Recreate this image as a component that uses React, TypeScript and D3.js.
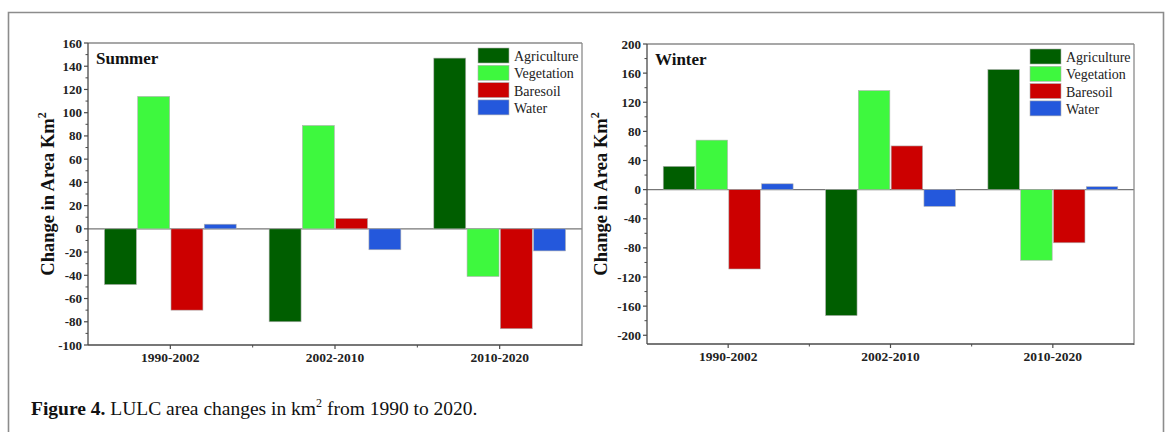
import React from "react";
import * as d3 from "d3";

// Periods and land-cover classes
const periods = ["1990-2002", "2002-2010", "2010-2020"];
const classes = ["Agriculture", "Vegetation", "Baresoil", "Water"];
const classColors = ["#005e00", "#3ef83e", "#cc0000", "#2458dc"];

// Summer change (km²) per class, one value per period
const summerAgriculture = [-48, -80, 147];
const summerVegetation = [114, 89, -41];
const summerBaresoil = [-70, 9, -86];
const summerWater = [4, -18, -19];

// Winter change (km²) per class, one value per period
const winterAgriculture = [32, -173, 165];
const winterVegetation = [68, 136, -97];
const winterBaresoil = [-109, 60, -73];
const winterWater = [8, -23, 4];

// Axis ticks
const summerMajorTicks = [-100, -80, -60, -40, -20, 0, 20, 40, 60, 80, 100, 120, 140, 160];
const summerDomain: [number, number] = [-100, 160];
const winterMajorTicks = [-200, -160, -120, -80, -40, 0, 40, 80, 120, 160, 200];
const winterDomain: [number, number] = [-212, 200];

const SERIF = "'Liberation Serif', 'Times New Roman', Times, serif";

type PanelProps = {
  x0: number;
  x1: number;
  y0: number;
  y1: number;
  domain: [number, number];
  majorTicks: number[];
  minorStep: number;
  series: number[][];
  label: string;
  titleX: number;
};

function Panel({ x0, x1, y0, y1, domain, majorTicks, minorStep, series, label, titleX }: PanelProps) {
  const x = d3.scaleBand<string>().domain(periods).range([x0, x1]).padding(0);
  const bw = x.bandwidth();
  const xc = d3
    .scaleBand<string>()
    .domain(classes)
    .range([bw * 0.1, bw * 0.9])
    .paddingInner(0.04);
  const y = d3.scaleLinear().domain(domain).range([y1, y0]);

  const step = majorTicks[1] - majorTicks[0];
  const minorTicks = d3
    .range(majorTicks[0] - step / 2, majorTicks[majorTicks.length - 1], minorStep)
    .filter((v) => v >= domain[0] && v <= domain[1] && !majorTicks.includes(v));

  const boundaries = periods.slice(1).map((p) => x(p)!);
  const axisColor = "#4a4a4a";
  const frameColor = "#8a8a8a";

  return (
    <g>
      {/* zero baseline */}
      <line x1={x0} x2={x1} y1={y(0)} y2={y(0)} stroke="#777" strokeWidth={1.2} />

      {/* bars */}
      {series.map((vals, ci) =>
        vals.map((v, pi) => {
          const bx = x(periods[pi])! + xc(classes[ci])!;
          const top = y(Math.max(0, v));
          const h = Math.abs(y(v) - y(0));
          return (
            <rect
              key={`${ci}-${pi}`}
              x={bx}
              y={top}
              width={xc.bandwidth()}
              height={h}
              fill={classColors[ci]}
              stroke="#b0b0b0"
              strokeWidth={0.6}
            />
          );
        })
      )}

      {/* frame */}
      <line x1={x0} x2={x1} y1={y0} y2={y0} stroke={frameColor} strokeWidth={1.3} />
      <line x1={x1} x2={x1} y1={y0} y2={y1 + 1} stroke={frameColor} strokeWidth={1.3} />
      <line x1={x0} x2={x0} y1={y0} y2={y1} stroke={axisColor} strokeWidth={1.3} />
      <line x1={x0} x2={x1} y1={y1} y2={y1} stroke={axisColor} strokeWidth={1.3} />

      {/* y ticks */}
      {majorTicks.map((t) => (
        <g key={`M${t}`}>
          <line x1={x0 - 4} x2={x0} y1={y(t)} y2={y(t)} stroke={axisColor} strokeWidth={1.2} />
          <text
            x={x0 - 6}
            y={y(t)}
            textAnchor="end"
            dominantBaseline="central"
            fontFamily={SERIF}
            fontWeight="bold"
            fontSize={13}
            fill="#222"
          >
            {t}
          </text>
        </g>
      ))}
      {minorTicks.map((t) => (
        <line key={`m${t}`} x1={x0 - 2.5} x2={x0} y1={y(t)} y2={y(t)} stroke={axisColor} strokeWidth={1} />
      ))}

      {/* x ticks */}
      {periods.map((p) => {
        const cx = x(p)! + bw / 2;
        return (
          <g key={p}>
            <line x1={cx} x2={cx} y1={y1} y2={y1 + 4} stroke={axisColor} strokeWidth={1.2} />
            <text
              x={cx}
              y={y1 + 17}
              textAnchor="middle"
              fontFamily={SERIF}
              fontWeight="bold"
              fontSize={13.5}
              fill="#222"
            >
              {p}
            </text>
          </g>
        );
      })}
      {boundaries.map((bx) => (
        <line key={bx} x1={bx} x2={bx} y1={y1} y2={y1 + 2.5} stroke={axisColor} strokeWidth={1} />
      ))}

      {/* season label */}
      <text x={x0 + 8} y={y0 + 21} fontFamily={SERIF} fontWeight="bold" fontSize={17} fill="#111">
        {label}
      </text>

      {/* legend */}
      {classes.map((c, i) => (
        <g key={c}>
          <rect
            x={x1 - 104}
            y={y0 + 5 + i * 17.3}
            width={31}
            height={15}
            fill={classColors[i]}
            stroke="#b0b0b0"
            strokeWidth={0.6}
          />
          <text x={x1 - 68} y={y0 + 18 + i * 17.3} fontFamily={SERIF} fontSize={14} fill="#222">
            {c}
          </text>
        </g>
      ))}

      {/* y-axis title */}
      <text
        transform={`translate(${titleX},${(y0 + y1) / 2}) rotate(-90)`}
        textAnchor="middle"
        fontFamily={SERIF}
        fontWeight="bold"
        fontSize={18.5}
        fill="#111"
      >
        Change in Area Km
        <tspan fontSize={12} dy={-8}>
          2
        </tspan>
      </text>
    </g>
  );
}

export default function App() {
  const summerSeries = [summerAgriculture, summerVegetation, summerBaresoil, summerWater];
  const winterSeries = [winterAgriculture, winterVegetation, winterBaresoil, winterWater];

  return (
    <svg
      width={1170}
      height={432}
      viewBox="0 0 1170 432"
      style={{ position: "absolute", left: 0, top: 0, background: "#fff" }}
    >
      <rect x={0} y={0} width={1170} height={432} fill="#fff" />
      {/* outer figure frame */}
      <path d="M8.5,440 V12.5 H1163.5 V440" fill="none" stroke="#8c8c8c" strokeWidth={1.6} />

      <Panel
        x0={88}
        x1={582}
        y0={43}
        y1={345}
        domain={summerDomain}
        majorTicks={summerMajorTicks}
        minorStep={10}
        series={summerSeries}
        label="Summer"
        titleX={54}
      />
      <Panel
        x0={647}
        x1={1134}
        y0={44}
        y1={344}
        domain={winterDomain}
        majorTicks={winterMajorTicks}
        minorStep={20}
        series={winterSeries}
        label="Winter"
        titleX={607}
      />

      <text x={31} y={415} fontFamily={SERIF} fontSize={19.5} fill="#111">
        <tspan fontWeight="bold">Figure 4.</tspan> LULC area changes in km
        <tspan fontSize={12} dy={-8}>
          2
        </tspan>
        <tspan dy={8}> from 1990 to 2020.</tspan>
      </text>
    </svg>
  );
}
